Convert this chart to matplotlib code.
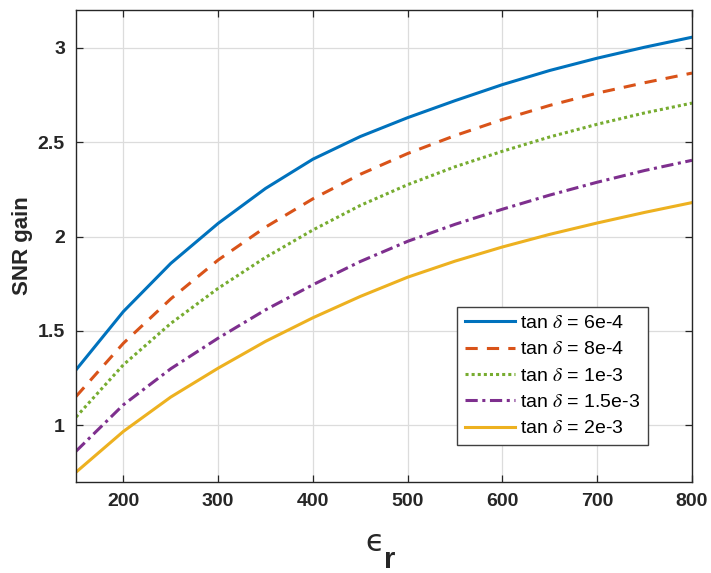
import matplotlib
matplotlib.use("Agg")
import matplotlib.pyplot as plt

eps_r = [150, 200, 250, 300, 350, 400, 450, 500, 550, 600, 650, 700, 750, 800]

gain_6e4 = [1.294, 1.603, 1.858, 2.070, 2.255, 2.410, 2.530, 2.630, 2.720, 2.805, 2.880, 2.945, 3.003, 3.056]
gain_8e4 = [1.153, 1.435, 1.670, 1.876, 2.050, 2.200, 2.330, 2.440, 2.535, 2.620, 2.695, 2.760, 2.815, 2.866]
gain_1e3 = [1.044, 1.321, 1.540, 1.726, 1.890, 2.035, 2.165, 2.275, 2.370, 2.452, 2.528, 2.595, 2.655, 2.707]
gain_15e3 = [0.863, 1.109, 1.300, 1.462, 1.612, 1.745, 1.868, 1.975, 2.065, 2.145, 2.220, 2.288, 2.350, 2.404]
gain_2e3 = [0.752, 0.968, 1.150, 1.303, 1.445, 1.570, 1.683, 1.785, 1.870, 1.945, 2.012, 2.072, 2.128, 2.180]

labels = ["tan $\\delta$ = 6e-4", "tan $\\delta$ = 8e-4", "tan $\\delta$ = 1e-3",
          "tan $\\delta$ = 1.5e-3", "tan $\\delta$ = 2e-3"]
series = [gain_6e4, gain_8e4, gain_1e3, gain_15e3, gain_2e3]
colors = ["#0072BD", "#D95319", "#77AC30", "#7E2F8E", "#EDB120"]
styles = ["-", (0, (4, 3)), (0, (1, 1)), (0, (4, 1.5, 1, 1.5)), "-"]

xticks = [200, 300, 400, 500, 600, 700, 800]
yticks = [1, 1.5, 2, 2.5, 3]

plt.rcParams['font.family'] = ['Liberation Sans', 'DejaVu Sans']
plt.rcParams['mathtext.fontset'] = 'stix'

fig = plt.figure(figsize=(7.11, 5.73), dpi=100)
ax = fig.add_axes([0.1069, 0.1588, 0.8664, 0.8237])

for y, lab, c, ls in zip(series, labels, colors, styles):
    ax.plot(eps_r, y, color=c, linestyle=ls, linewidth=2.2, label=lab)

ax.set_xlim(150, 800)
ax.set_ylim(0.7, 3.2)
ax.set_xticks(xticks)
ax.set_yticks(yticks)
ax.set_xticklabels([str(t) for t in xticks])
ax.set_yticklabels(["1", "1.5", "2", "2.5", "3"])
ax.grid(True, color="#dcdcdc", linewidth=0.9)
ax.set_axisbelow(True)
ax.tick_params(direction="in", length=5, width=0.9, top=True, right=True,
               labelsize=14, colors="#262626", pad=8)
for lbl in ax.get_xticklabels() + ax.get_yticklabels():
    lbl.set_fontweight("bold")
for s in ax.spines.values():
    s.set_color("#262626")
    s.set_linewidth(1.0)

ax.set_ylabel("SNR gain", fontsize=16, fontweight="bold", color="#262626", labelpad=3)

fig.text(375 / 711, 1 - 551 / 573, "\u03f5", fontsize=22, ha="center", va="baseline",
         color="#262626", family=["DejaVu Sans"])
fig.text(390 / 711, 1 - 568 / 573, "r", fontsize=21, fontweight="bold", ha="center",
         va="baseline", color="#262626")

leg = ax.legend(loc="lower right", bbox_to_anchor=(0.929, 0.078), borderaxespad=0,
                fontsize=14, frameon=True, fancybox=False, framealpha=1,
                edgecolor="#404040", handlelength=2.6, handletextpad=0.25,
                borderpad=0.4, labelspacing=0.45)
leg.get_frame().set_linewidth(1.0)

fig.savefig("out.png", dpi=100)
